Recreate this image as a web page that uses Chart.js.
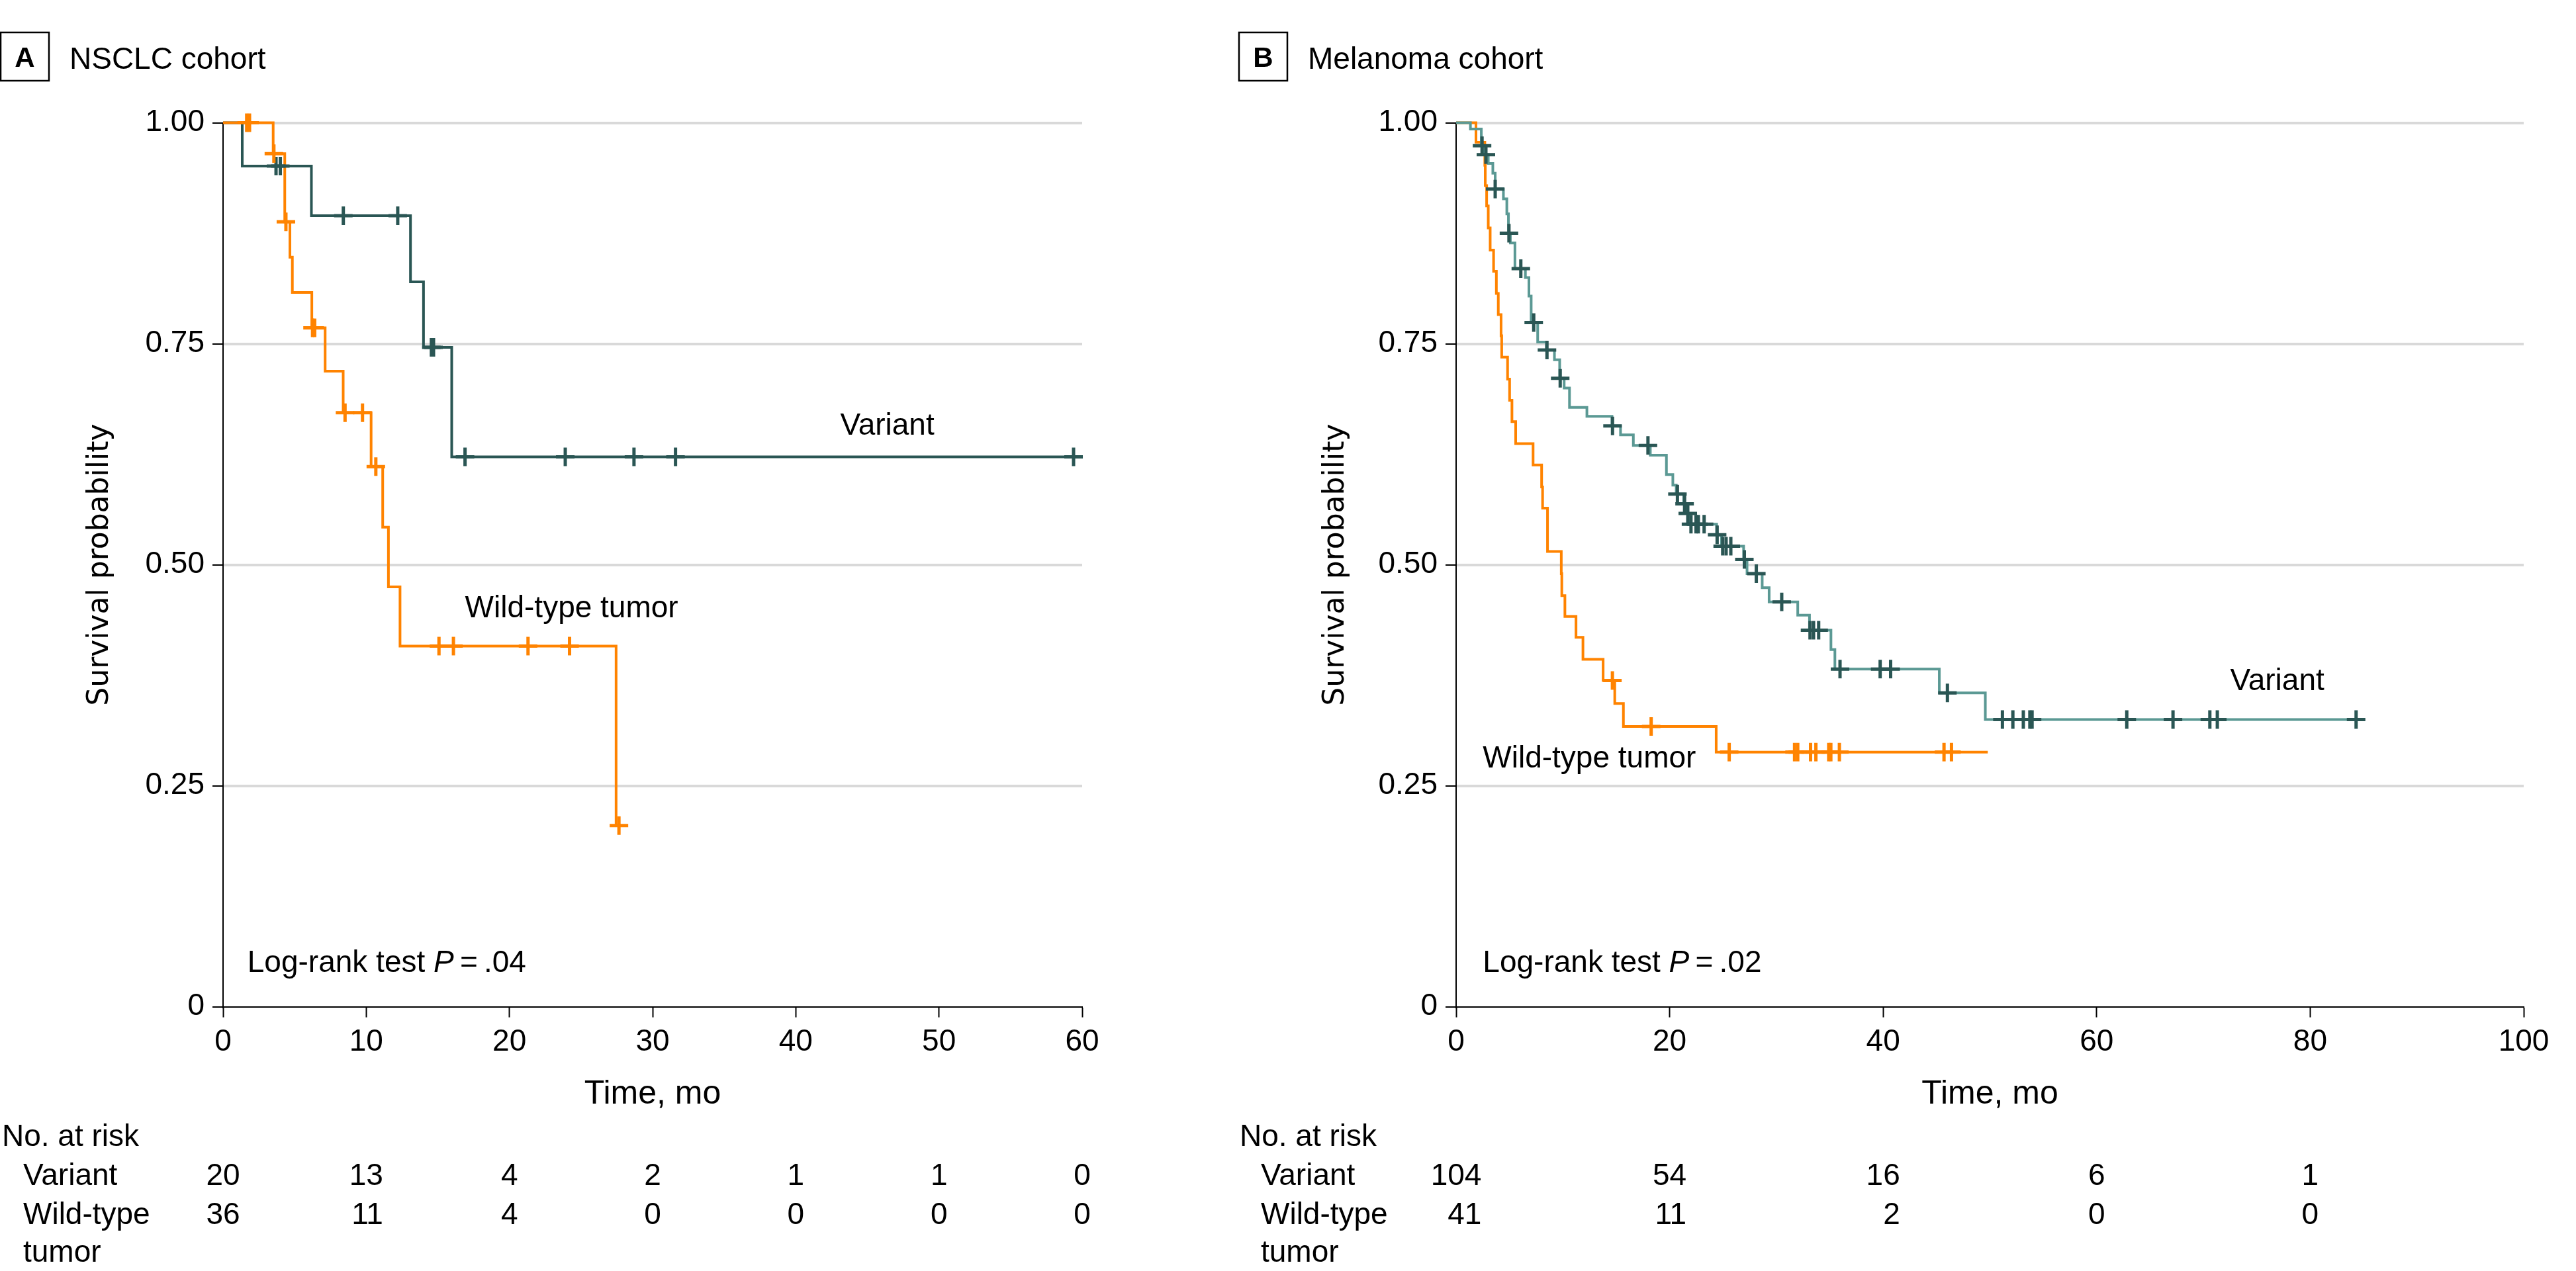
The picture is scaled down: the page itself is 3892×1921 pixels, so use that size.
<!DOCTYPE html>
<html>
<head>
<meta charset="utf-8">
<title>Survival by cohort</title>
<script src="https://cdn.jsdelivr.net/npm/chart.js@4.4.1/dist/chart.umd.min.js"></script>
<style>
  html, body { margin: 0; padding: 0; background: #fff; }
  body { width: 3892px; height: 1921px; position: relative; overflow: hidden; }
  .panel { position: absolute; top: 0; height: 1921px; }
  #panelA { left: 0; width: 1850px; }
  #panelB { left: 1850px; width: 2042px; }
</style>
</head>
<body>
<div class="panel" id="panelA"><canvas id="chartA" width="1850" height="1921"></canvas></div>
<div class="panel" id="panelB"><canvas id="chartB" width="2042" height="1921"></canvas></div>
<script>
// ---- data ----
// survival steps: value at each time is the level right after that time
var nsclcVariantTime = [0, 1.34, 6.17, 13.09, 14.0, 15.97, 59.4];
var nsclcVariantSurv = [1, 0.951, 0.895, 0.820, 0.746, 0.622, 0.622];
var nsclcVariantCensor = [3.7, 4.0, 8.4, 12.2, 14.55, 14.7, 16.9, 23.9, 28.7, 31.6, 59.4];

var nsclcWildTime = [0, 3.5, 4.31, 4.67, 4.84, 6.2, 7.13, 8.39, 10.34, 11.15, 11.55, 12.36, 27.45, 27.65];
var nsclcWildSurv = [1, 0.965, 0.888, 0.848, 0.808, 0.768, 0.719, 0.672, 0.611, 0.5425, 0.475, 0.408, 0.205, 0.205];
var nsclcWildCensor = [1.65, 1.85, 3.55, 4.39, 6.25, 6.4, 8.52, 9.74, 10.67, 15.08, 16.09, 21.3, 24.2, 27.65];

var melVariantTime = [0, 1.34, 2.36, 2.62, 3.01, 3.44, 3.66, 4.43, 4.75, 4.9, 5.08, 5.51, 6.49, 6.82, 7.03,
  7.64, 8.45, 9.21, 9.7, 10.12, 10.62, 12.25, 14.6, 15.4, 16.6, 18.19, 19.7, 20.3, 20.62, 21.32, 21.6,
  21.82, 24.4, 24.86, 26.93, 27.25, 28.67, 29.32, 32.0, 33.1, 35.11, 35.48, 45.26, 49.57, 84.3];
var melVariantSurv = [1, 0.993, 0.974, 0.964, 0.954, 0.943, 0.925, 0.914, 0.897, 0.875, 0.864, 0.835, 0.825, 0.804, 0.774,
  0.752, 0.743, 0.732, 0.711, 0.700, 0.678, 0.668, 0.657, 0.647, 0.635, 0.624, 0.602, 0.590, 0.580, 0.569, 0.558,
  0.546, 0.534, 0.521, 0.506, 0.490, 0.474, 0.458, 0.443, 0.426, 0.404, 0.382, 0.355, 0.325, 0.325];
var melVariantCensor = [2.43, 2.79, 3.66, 4.95, 6.06, 7.27, 8.51, 9.75, 14.65, 17.97, 20.73, 21.4, 21.7, 22.0,
  22.47, 22.69, 23.23, 24.45, 24.97, 25.29, 25.73, 27.0, 28.12, 30.5, 33.15, 33.48, 33.96, 35.96, 39.72, 40.7,
  46.02, 51.17, 52.15, 53.13, 53.74, 53.95, 62.82, 67.15, 70.6, 71.3, 84.3];

var melWildTime = [0, 1.86, 2.69, 2.73, 2.86, 3.01, 3.19, 3.51, 3.77, 3.95, 4.21, 4.27, 4.82, 5.01, 5.23, 5.58,
  7.21, 8.01, 8.1, 8.56, 9.85, 9.9, 10.19, 11.23, 11.88, 13.77, 14.86, 15.67, 24.36, 49.8];
var melWildSurv = [1, 0.978, 0.952, 0.929, 0.906, 0.881, 0.856, 0.832, 0.807, 0.783, 0.759, 0.735, 0.710, 0.686, 0.662, 0.637,
  0.613, 0.588, 0.564, 0.515, 0.490, 0.465, 0.4415, 0.418, 0.393, 0.369, 0.343, 0.317, 0.288, 0.288];
var melWildCensor = [14.64, 18.27, 25.58, 31.7, 32.0, 33.2, 33.7, 34.9, 35.1, 35.9, 45.7, 46.4];

var yTickValues = [0, 0.25, 0.5, 0.75, 1];
var yTickLabels = ['0', '0.25', '0.50', '0.75', '1.00'];

var riskTimesA = [0, 10, 20, 30, 40, 50, 60];
var nsclcRiskVariant = [20, 13, 4, 2, 1, 1, 0];
var nsclcRiskWild = [36, 11, 4, 0, 0, 0, 0];

var riskTimesB = [0, 20, 40, 60, 80];
var melRiskVariant = [104, 54, 16, 6, 1];
var melRiskWild = [41, 11, 2, 0, 0];

// ---- styling ----
var ORANGE = '#ff8300';
var DARK = '#2a5654';
var TEAL = '#5b9994';
var FONT = '"Liberation Sans", Arial, sans-serif';

Chart.defaults.font.family = FONT;
Chart.defaults.font.size = 46;
Chart.defaults.color = '#000';

function survAt(times, surv, t) {
  var v = surv[0];
  for (var i = 0; i < times.length; i++) {
    if (times[i] <= t) v = surv[i];
  }
  return v;
}

function stepData(times, surv) {
  return times.map(function (t, i) { return { x: t, y: surv[i] }; });
}

function censorData(times, surv, cens) {
  return cens.map(function (t) { return { x: t, y: survAt(times, surv, t) }; });
}

var extras = {
  id: 'kmExtras',
  afterDraw: function (chart, args, o) {
    var ctx = chart.ctx, xs = chart.scales.x, ys = chart.scales.y, area = chart.chartArea;
    ctx.save();
    ctx.fillStyle = '#000';
    ctx.strokeStyle = '#000';

    // panel letter and title
    ctx.lineWidth = 2.5;
    ctx.strokeRect(o.boxX, 49, 73, 73);
    ctx.font = 'bold 42px ' + FONT;
    ctx.textAlign = 'center';
    ctx.textBaseline = 'alphabetic';
    ctx.fillText(o.letter, o.boxX + 36.5, 101);
    ctx.font = '46px ' + FONT;
    ctx.textAlign = 'left';
    ctx.fillText(o.title, o.titleX, 104);

    // axis titles
    ctx.save();
    ctx.translate(o.yTitleX, (area.top + area.bottom) / 2);
    ctx.rotate(-Math.PI / 2);
    ctx.font = '44px "DejaVu Sans", sans-serif';
    ctx.textAlign = 'center';
    ctx.textBaseline = 'middle';
    ctx.fillText('Survival probability', 0, 0);
    ctx.restore();

    ctx.textBaseline = 'middle';
    ctx.font = '50px ' + FONT;
    ctx.textAlign = 'center';
    ctx.fillText('Time, mo', (area.left + area.right) / 2, 1654);

    // curve labels
    ctx.font = '46px ' + FONT;
    ctx.textAlign = 'left';
    o.labels.forEach(function (l) {
      ctx.fillText(l.text, xs.getPixelForValue(l.x), ys.getPixelForValue(l.y));
    });

    // log-rank text with italic P
    var lx = xs.getPixelForValue(o.logrank.x), ly = ys.getPixelForValue(o.logrank.y);
    var a = 'Log-rank test ', b = 'P', c = '\u2009=\u2009' + o.logrank.p;
    ctx.fillText(a, lx, ly);
    lx += ctx.measureText(a).width;
    ctx.font = 'italic 46px ' + FONT;
    ctx.fillText(b, lx, ly);
    lx += ctx.measureText(b).width;
    ctx.font = '46px ' + FONT;
    ctx.fillText(c, lx, ly);

    // number at risk table
    ctx.fillText('No. at risk', o.riskX, 1719);
    ctx.fillText('Variant', o.riskX + 32, 1778);
    ctx.fillText('Wild-type', o.riskX + 32, 1837);
    ctx.fillText('tumor', o.riskX + 32, 1894);
    ctx.textAlign = 'right';
    o.riskTimes.forEach(function (t, i) {
      var s1 = String(o.riskVariant[i]), s2 = String(o.riskWild[i]);
      var w = Math.max(ctx.measureText(s1).width, ctx.measureText(s2).width);
      var right = xs.getPixelForValue(t) + w / 2;
      ctx.fillText(s1, right, 1778);
      ctx.fillText(s2, right, 1837);
    });
    ctx.restore();
  }
};

function makeChart(id, cfg) {
  var ds = [];
  cfg.curves.forEach(function (c) {
    ds.push({
      type: 'line',
      data: censorData(c.time, c.surv, c.censor),
      showLine: false,
      pointStyle: 'cross',
      pointRadius: 14,
      pointBorderWidth: 5,
      pointBorderColor: c.mark,
      pointBackgroundColor: c.mark,
      clip: false
    });
  });
  cfg.curves.forEach(function (c) {
    ds.push({
      type: 'line',
      data: stepData(c.time, c.surv),
      stepped: 'before',
      borderColor: c.line,
      borderWidth: 4,
      pointRadius: 0,
      fill: false,
      clip: false
    });
  });

  return new Chart(document.getElementById(id), {
    type: 'line',
    data: { datasets: ds },
    options: {
      responsive: false,
      animation: false,
      devicePixelRatio: 1,
      events: [],
      layout: { padding: { left: 0, top: 185.6, right: cfg.padRight, bottom: 0 } },
      plugins: { legend: { display: false }, tooltip: { enabled: false }, kmExtras: cfg.extras },
      scales: {
        x: {
          type: 'linear',
          min: 0,
          max: cfg.xMax,
          afterFit: function (s) { s.height = 1921 - 1521.6; },
          ticks: { stepSize: cfg.xStep, padding: 10, font: { size: 46 }, color: '#000' },
          grid: { drawOnChartArea: false, drawTicks: true, tickLength: 16, tickWidth: 2, tickColor: '#000' },
          border: { display: true, color: '#000', width: 2 }
        },
        y: {
          type: 'linear',
          min: 0,
          max: 1,
          afterFit: function (s) { s.width = cfg.yWidth; },
          afterBuildTicks: function (s) { s.ticks = yTickValues.map(function (v) { return { value: v }; }); },
          ticks: {
            padding: 12,
            font: { size: 46 },
            color: '#000',
            callback: function (v) { return yTickLabels[yTickValues.indexOf(v)]; }
          },
          grid: {
            color: function (c) { return c.tick && c.tick.value === 0 ? 'rgba(0,0,0,0)' : '#d9d9d9'; },
            lineWidth: 4,
            drawTicks: true,
            tickLength: 16,
            tickWidth: 2,
            tickColor: '#000'
          },
          border: { display: true, color: '#000', width: 2 }
        }
      }
    },
    plugins: [extras]
  });
}

makeChart('chartA', {
  xMax: 60, xStep: 10, yWidth: 337, padRight: 1850 - 1635,
  curves: [
    { time: nsclcWildTime, surv: nsclcWildSurv, censor: nsclcWildCensor, line: ORANGE, mark: ORANGE },
    { time: nsclcVariantTime, surv: nsclcVariantSurv, censor: nsclcVariantCensor, line: DARK, mark: DARK }
  ],
  extras: {
    letter: 'A', title: 'NSCLC cohort', boxX: 1, titleX: 105, yTitleX: 152, riskX: 3,
    labels: [{ text: 'Variant', x: 43.1, y: 0.657 }, { text: 'Wild-type tumor', x: 16.9, y: 0.45 }],
    logrank: { x: 1.7, y: 0.049, p: '.04' },
    riskTimes: riskTimesA, riskVariant: nsclcRiskVariant, riskWild: nsclcRiskWild
  }
});

makeChart('chartB', {
  xMax: 100, xStep: 20, yWidth: 350, padRight: 2042 - 1963,
  curves: [
    { time: melVariantTime, surv: melVariantSurv, censor: melVariantCensor, line: TEAL, mark: DARK },
    { time: melWildTime, surv: melWildSurv, censor: melWildCensor, line: ORANGE, mark: ORANGE }
  ],
  extras: {
    letter: 'B', title: 'Melanoma cohort', boxX: 22, titleX: 126, yTitleX: 169, riskX: 23,
    labels: [{ text: 'Variant', x: 72.5, y: 0.368 }, { text: 'Wild-type tumor', x: 2.5, y: 0.28 }],
    logrank: { x: 2.5, y: 0.049, p: '.02' },
    riskTimes: riskTimesB, riskVariant: melRiskVariant, riskWild: melRiskWild
  }
});
</script>
</body>
</html>
